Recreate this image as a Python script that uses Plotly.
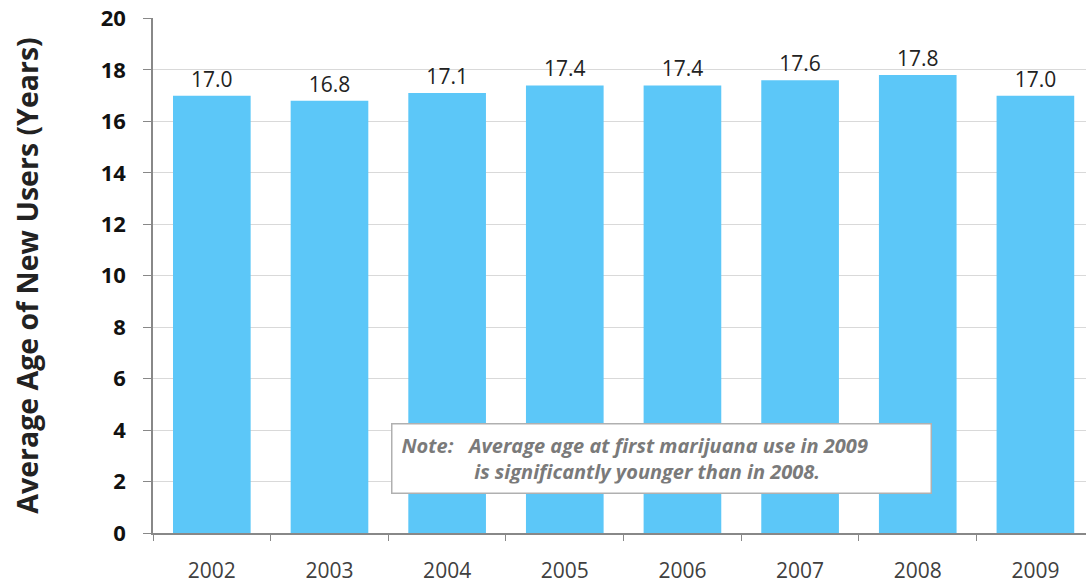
import plotly.graph_objects as go

years = ["2002", "2003", "2004", "2005", "2006", "2007", "2008", "2009"]
ages = [17.0, 16.8, 17.1, 17.4, 17.4, 17.6, 17.8, 17.0]
labels = ["17.0", "16.8", "17.1", "17.4", "17.4", "17.6", "17.8", "17.0"]

FONT = "Open Sans, Lato, sans-serif"
NOTE_1 = "Note:   Average age at first marijuana use in 2009"
NOTE_2 = "is significantly younger than in 2008."

fig = go.Figure()
fig.add_trace(go.Bar(
    x=years, y=ages, text=labels, textposition="outside",
    textfont=dict(family=FONT, size=21, color="#222"),
    marker=dict(color="#5CC7F8", line=dict(width=0)),
    width=0.66, cliponaxis=False,
))

fig.add_annotation(
    x=0.5455, y=0.1456, xref="paper", yref="paper",
    text="<i><b>" + NOTE_1 + "</b></i><br><i><b>" + "&nbsp;" * 14 + NOTE_2 + "</b></i>",
    showarrow=False, align="left", width=520, height=50,
    font=dict(family=FONT, size=20, color="#7a7a7a"),
    bgcolor="white", bordercolor="#b0b0b0", borderwidth=1.5, borderpad=9,
    xanchor="center", yanchor="middle",
)

fig.update_layout(
    width=1086, height=588,
    margin=dict(l=153, r=0, t=18, b=55),
    plot_bgcolor="white", paper_bgcolor="white",
    showlegend=False,
    xaxis=dict(
        type="category", range=[-0.5, 7.43],
        showline=True, linecolor="#888", linewidth=1.5,
        ticks="outside", tickson="boundaries", ticklen=6, tickcolor="#888",
        tickfont=dict(family=FONT, size=21, color="#404040"),
        ticklabelstandoff=18, automargin=False,
        showgrid=False,
    ),
    yaxis=dict(
        range=[0, 20.02], tickvals=[0, 2, 4, 6, 8, 10, 12, 14, 16, 18, 20],
        showline=True, linecolor="#888", linewidth=1.5,
        ticks="outside", ticklen=8, tickcolor="#888",
        ticklabelstandoff=13, ticklabeloverflow="allow", automargin=False,
        showgrid=True, gridcolor="#d9d9d9", gridwidth=1,
        tickfont=dict(family=FONT, size=22, color="#111", weight="bold"),
        title=dict(text="<b>Average Age of New Users (Years)</b>", standoff=54,
                   font=dict(family=FONT, size=28.5, color="#222")),
        zeroline=False,
    ),
)

fig.write_html(
    "out.html",
    config={"displayModeBar": False},
    post_script="document.body.style.margin='0';document.body.style.overflow='hidden';",
)
